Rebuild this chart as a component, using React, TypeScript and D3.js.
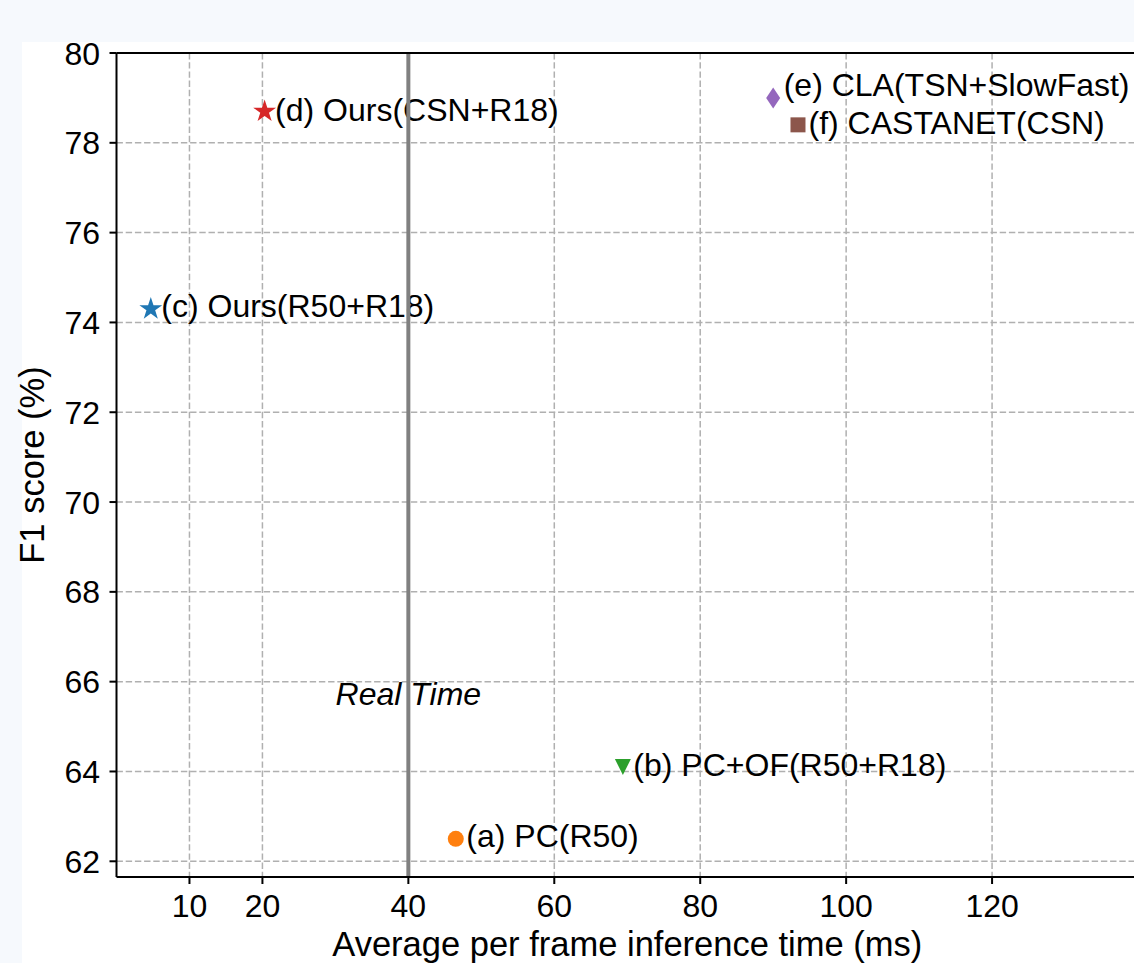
import * as d3 from 'd3';
import React from 'react';

// methods plotted as (inference time ms, F1 %)
const labels = [
  '(a) PC(R50)',
  '(b) PC+OF(R50+R18)',
  '(c) Ours(R50+R18)',
  '(d) Ours(CSN+R18)',
  '(e) CLA(TSN+SlowFast)',
  '(f) CASTANET(CSN)',
];
const timeMs = [46.5, 69.4, 4.7, 20.3, 90.0, 93.4];
const f1Score = [62.5, 64.1, 74.3, 78.7, 79.0, 78.4];

const xTicks = [10, 20, 40, 60, 80, 100, 120];
const yTicks = [62, 64, 66, 68, 70, 72, 74, 76, 78, 80];
const realTimeMs = 40;

// styling per point (marker, colour, label nudge)
const markers = ['circle', 'triangleDown', 'star', 'star', 'diamond', 'square'];
const colors = ['#ff7f0e', '#2ca02c', '#1f77b4', '#d62728', '#9467bd', '#8c564b'];
const labelDy = [8, 9, 8, 10, -2, 9];

const W = 1134;
const H = 963;
const FONT = '"Liberation Sans", Arial, Helvetica, sans-serif';

const markerPath = (kind: string, cx: number, cy: number) => {
  if (kind === 'circle') {
    const r = 8;
    return `M${cx - r},${cy}a${r},${r} 0 1,0 ${2 * r},0a${r},${r} 0 1,0 ${-2 * r},0Z`;
  }
  if (kind === 'triangleDown') {
    const s = 8;
    return `M${cx - s},${cy - s}L${cx + s},${cy - s}L${cx},${cy + s}Z`;
  }
  if (kind === 'square') {
    const s = 7.5;
    return `M${cx - s},${cy - s}H${cx + s}V${cy + s}H${cx - s}Z`;
  }
  if (kind === 'diamond') {
    return `M${cx},${cy - 10.5}L${cx + 7},${cy}L${cx},${cy + 10.5}L${cx - 7},${cy}Z`;
  }
  // five-point star
  const R = 12;
  const r = R * 0.381966;
  const pts: string[] = [];
  for (let i = 0; i < 10; i++) {
    const a = -Math.PI / 2 + (i * Math.PI) / 5;
    const rad = i % 2 === 0 ? R : r;
    pts.push(`${cx + rad * Math.cos(a)},${cy + rad * Math.sin(a)}`);
  }
  return `M${pts.join('L')}Z`;
};

export default function App() {
  const x = d3.scaleLinear().domain([0, 140]).range([116.5, 1138]);
  const y = d3.scaleLinear().domain([61.65, 80]).range([877, 53]);
  const [x0, x1] = x.range();
  const [y0, y1] = y.range();

  return (
    <svg
      width={W}
      height={H}
      style={{ position: 'absolute', left: 0, top: 0, display: 'block' }}
      fontFamily={FONT}
    >
      <rect x={0} y={0} width={W} height={H} fill="#f6f9fd" />
      <rect x={22} y={42} width={W - 22} height={H - 42} fill="#ffffff" />

      {/* grid */}
      <g stroke="#b0b0b0" strokeWidth={1.5} strokeDasharray="6.4,2.8" fill="none">
        {xTicks.map(t => (
          <line key={'gx' + t} x1={x(t)} x2={x(t)} y1={y1} y2={y0} />
        ))}
        {yTicks.map(t => (
          <line key={'gy' + t} x1={x0} x2={x1} y1={y(t)} y2={y(t)} />
        ))}
      </g>

      {/* points + labels */}
      {labels.map((lab, i) => {
        const cx = x(timeMs[i]);
        const cy = y(f1Score[i]);
        return (
          <g key={lab}>
            <path d={markerPath(markers[i], cx, cy)} fill={colors[i]} />
            <text x={cx + 10.5} y={cy + labelDy[i]} fontSize={32} fill="#000">
              {lab}
            </text>
          </g>
        );
      })}

      {/* real time threshold */}
      <line x1={x(realTimeMs)} x2={x(realTimeMs)} y1={y1} y2={y0} stroke="#808080" strokeWidth={4} />
      <text
        x={x(realTimeMs)}
        y={y(65.48)}
        textAnchor="middle"
        fontSize={32}
        fontStyle="italic"
        fill="#000"
      >
        Real Time
      </text>

      {/* spines */}
      <g stroke="#000" strokeWidth={2} fill="none">
        <line x1={x0} x2={x0} y1={y1} y2={y0} />
        <line x1={x0} x2={x1} y1={y0} y2={y0} />
        <line x1={x0} x2={x1} y1={y1} y2={y1} />
        <line x1={x1} x2={x1} y1={y1} y2={y0} />
      </g>

      {/* x ticks */}
      {xTicks.map(t => (
        <g key={'xt' + t}>
          <line x1={x(t)} x2={x(t)} y1={y0} y2={y0 + 7} stroke="#000" strokeWidth={2} />
          <text x={x(t)} y={917} textAnchor="middle" fontSize={32}>
            {t}
          </text>
        </g>
      ))}

      {/* y ticks */}
      {yTicks.map(t => (
        <g key={'yt' + t}>
          <line x1={x0 - 7} x2={x0} y1={y(t)} y2={y(t)} stroke="#000" strokeWidth={2} />
          <text x={100} y={y(t) + 11.5} textAnchor="end" fontSize={32}>
            {t}
          </text>
        </g>
      ))}

      {/* axis titles */}
      <text x={(x0 + x1) / 2} y={956} textAnchor="middle" fontSize={34.5}>
        Average per frame inference time (ms)
      </text>
      <text
        transform={`translate(44,${(y0 + y1) / 2}) rotate(-90)`}
        textAnchor="middle"
        fontSize={34.5}
      >
        F1 score (%)
      </text>
    </svg>
  );
}
